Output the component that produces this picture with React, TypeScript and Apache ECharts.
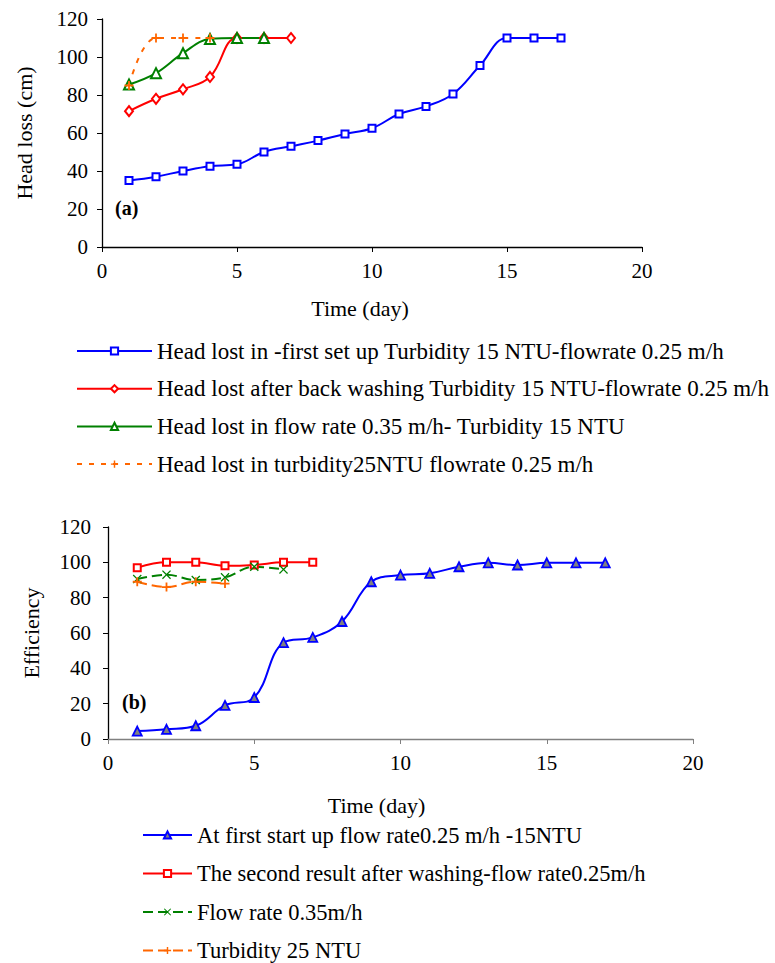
import React, { useEffect, useRef } from "react";
import * as echarts from "echarts";

// ---- data ----
const days = [1, 2, 3, 4, 5, 6, 7, 8, 9, 10, 11, 12, 13, 14, 15, 16, 17];

const headFirstSetUp = [35, 37, 40, 42.5, 43.5, 50, 53, 56, 59.5, 62.5, 70, 74, 80.5, 95.5, 110, 110, 110];
const headAfterBackwash = [71.5, 78, 83, 89.5, 110, 110, 110];
const headFlow035 = [85.5, 91.5, 102, 109.5, 110, 110];
const headTurb25 = [85, 110, 110, 110];

const effFirstStart = [4.5, 5.5, 7.5, 19, 23.5, 54.5, 57.5, 66.5, 89, 92.8, 93.8, 97.5, 99.7, 98.5, 99.7, 99.7, 99.7];
const effAfterWash = [97, 100, 100, 98, 98.5, 100, 100];
const effFlow035 = [90.5, 93, 90, 91.5, 97.5, 96];
const effTurb25 = [89, 86, 89, 88];

const xTicks = { min: 0, max: 20, interval: 5 };
const yTicks = { min: 0, max: 120, interval: 20 };

const namesTop = [
  "Head lost in -first set up Turbidity 15 NTU-flowrate 0.25 m/h",
  "Head lost after back washing Turbidity 15 NTU-flowrate 0.25 m/h",
  "Head lost in flow rate 0.35 m/h- Turbidity 15 NTU",
  "Head lost in turbidity25NTU flowrate 0.25 m/h",
];
const namesBottom = [
  "At first start up flow rate0.25 m/h -15NTU",
  "The second result after washing-flow rate0.25m/h",
  "Flow rate 0.35m/h",
  "Turbidity 25 NTU",
];

const pairs = (vals: number[]) => vals.map((v, i) => [days[i], v]);

const FONT = "Liberation Serif";
const PLUS = "path://M0,4H10V6H0Z M4,0H6V10H4Z";
const CROSS = "path://M1,0 L5,4 L9,0 L10,1 L6,5 L10,9 L9,10 L5,6 L1,10 L0,9 L4,5 L0,1Z";

const BLUE = "#0000ff";
const RED = "#ff0000";
const GREEN = "#008000";
const ORANGE = "#ff6600";

function makeX(gridIndex: number, lineColor: string, nameGap: number, shift: number) {
  return {
    type: "value",
    gridIndex,
    ...xTicks,
    name: "Time (day)",
    nameLocation: "middle",
    nameGap,
    nameTextStyle: { fontFamily: FONT, fontSize: 22, color: "#000", padding: [0, shift, 0, 0] },
    axisLine: { show: true, lineStyle: { color: lineColor, width: 1.3 } },
    axisTick: { show: true, inside: false, length: 5, lineStyle: { color: lineColor } },
    axisLabel: { fontFamily: FONT, fontSize: 21, color: "#000", margin: 13 },
    splitLine: { show: false },
  };
}

function makeY(gridIndex: number, name: string, nameGap: number, margin: number) {
  return {
    type: "value",
    gridIndex,
    ...yTicks,
    name,
    nameLocation: "middle",
    nameGap,
    nameTextStyle: { fontFamily: FONT, fontSize: 22, color: "#000" },
    axisLine: { show: true, lineStyle: { color: "#000", width: 1.3 } },
    axisTick: { show: true, inside: false, length: 5, lineStyle: { color: "#000" } },
    axisLabel: { fontFamily: FONT, fontSize: 21, color: "#000", margin },
    splitLine: { show: false },
  };
}

export default function App() {
  const ref = useRef<HTMLDivElement>(null);

  useEffect(() => {
    if (!ref.current) return;
    const chart = echarts.init(ref.current, undefined, { renderer: "svg" });

    const option: any = {
      animation: false,
      backgroundColor: "#fff",
      textStyle: { fontFamily: FONT },
      grid: [
        { left: 102, top: 19, width: 540, height: 228 },
        { left: 108, top: 527, width: 585, height: 212 },
      ],
      xAxis: [makeX(0, "#000", 50, 24), makeX(1, "#808080", 55, 48)],
      yAxis: [makeY(0, "Head loss (cm)", 67, 14), makeY(1, "Efficiency", 66, 17)],
      legend: [
        {
          data: namesTop,
          orient: "vertical",
          left: 76,
          top: 339.5,
          padding: 0,
          itemWidth: 75,
          itemHeight: 9,
          itemGap: 14.7,
          textStyle: { fontFamily: FONT, fontSize: 23, lineHeight: 23, color: "#000" },
          selectedMode: false,
        },
        {
          data: namesBottom,
          orient: "vertical",
          left: 142,
          top: 823.5,
          padding: 0,
          itemWidth: 49,
          itemHeight: 9,
          itemGap: 15.5,
          textStyle: { fontFamily: FONT, fontSize: 22.5, lineHeight: 22.5, color: "#000" },
          selectedMode: false,
        },
      ],
      graphic: [
        {
          type: "text",
          left: 115,
          top: 198,
          style: { text: "(a)", font: `bold 20px ${FONT}`, fill: "#000" },
        },
        {
          type: "text",
          left: 122,
          top: 692,
          style: { text: "(b)", font: `bold 20px ${FONT}`, fill: "#000" },
        },
      ],
      series: [
        {
          name: namesTop[0],
          type: "line",
          xAxisIndex: 0,
          yAxisIndex: 0,
          data: pairs(headFirstSetUp),
          smooth: 0.4,
          symbol: "emptyRect",
          symbolSize: 7,
          lineStyle: { color: BLUE, width: 2 },
          itemStyle: { color: BLUE, borderWidth: 1.6 },
        },
        {
          name: namesTop[1],
          type: "line",
          xAxisIndex: 0,
          yAxisIndex: 0,
          data: pairs(headAfterBackwash),
          smooth: 0.4,
          symbol: "emptyDiamond",
          symbolSize: [8, 10],
          lineStyle: { color: RED, width: 2 },
          itemStyle: { color: RED, borderWidth: 1.5 },
        },
        {
          name: namesTop[2],
          type: "line",
          xAxisIndex: 0,
          yAxisIndex: 0,
          data: pairs(headFlow035),
          smooth: 0.4,
          symbol: "emptyTriangle",
          symbolSize: 10,
          lineStyle: { color: GREEN, width: 2 },
          itemStyle: { color: GREEN, borderWidth: 1.8 },
        },
        {
          name: namesTop[3],
          type: "line",
          xAxisIndex: 0,
          yAxisIndex: 0,
          data: pairs(headTurb25),
          smooth: 0.4,
          symbol: PLUS,
          symbolSize: 9,
          lineStyle: { color: ORANGE, width: 2, type: [5, 7] },
          itemStyle: { color: ORANGE },
        },
        {
          name: namesBottom[0],
          type: "line",
          xAxisIndex: 1,
          yAxisIndex: 1,
          data: pairs(effFirstStart),
          smooth: 0.4,
          symbol: "triangle",
          symbolSize: 9,
          lineStyle: { color: BLUE, width: 2 },
          itemStyle: { color: "#808080", borderColor: BLUE, borderWidth: 1.8 },
        },
        {
          name: namesBottom[1],
          type: "line",
          xAxisIndex: 1,
          yAxisIndex: 1,
          data: pairs(effAfterWash),
          smooth: 0.4,
          symbol: "emptyRect",
          symbolSize: 7,
          lineStyle: { color: RED, width: 2 },
          itemStyle: { color: RED, borderWidth: 1.5 },
        },
        {
          name: namesBottom[2],
          type: "line",
          xAxisIndex: 1,
          yAxisIndex: 1,
          data: pairs(effFlow035),
          smooth: 0.4,
          symbol: CROSS,
          symbolSize: 9,
          lineStyle: { color: GREEN, width: 2, type: [10, 5] },
          itemStyle: { color: GREEN },
        },
        {
          name: namesBottom[3],
          type: "line",
          xAxisIndex: 1,
          yAxisIndex: 1,
          data: pairs(effTurb25),
          smooth: 0.4,
          symbol: PLUS,
          symbolSize: 9,
          lineStyle: { color: ORANGE, width: 2, type: [10, 5] },
          itemStyle: { color: ORANGE },
        },
      ],
    };

    chart.setOption(option);
    return () => chart.dispose();
  }, []);

  return (
    <div
      ref={ref}
      style={{ position: "absolute", left: 0, top: 0, width: 775, height: 963, background: "#fff" }}
    />
  );
}
